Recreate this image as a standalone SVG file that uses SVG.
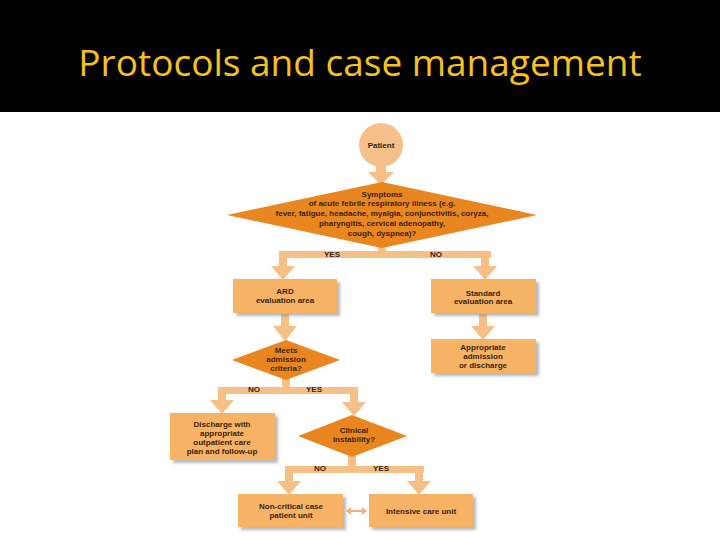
<svg xmlns="http://www.w3.org/2000/svg" width="720" height="540" viewBox="0 0 720 540">
<style>
.box{fill:#f6b265;filter:url(#sh)}
.dia{fill:#e9861f}
.t{font-family:"Liberation Sans",Arial,sans-serif;font-weight:bold;font-size:8px;fill:#3a2410;text-anchor:middle}
.c{fill:#f6bf86}
</style>
<defs>
<filter id="sh" x="-10%" y="-10%" width="130%" height="140%"><feDropShadow dx="3" dy="3" stdDeviation="1.5" flood-color="#888" flood-opacity="0.6"/></filter>
</defs>
<rect x="0" y="0" width="720" height="112" fill="#000"/>
<text x="360" y="76" font-family="'Open Sans','Liberation Sans',sans-serif" font-size="37" fill="#f5c21b" text-anchor="middle">Protocols and case management</text>
<rect x="0" y="112" width="720" height="428" fill="#fff"/>
<g id="connectors" class="c">
<polygon points="376,165 386,165 386,172 394,172 381,185 368,172 376,172"/>
<rect x="378" y="246" width="8" height="8"/>
<rect x="279" y="251" width="212" height="7"/>
<polygon points="279,258 287,258 287,266 295,266 283,280 271,266 279,266"/>
<polygon points="481,258 489,258 489,266 497,266 485,280 473,266 481,266"/>
<polygon points="281,314 289,314 289,326 297,326 285,341 273,326 281,326"/>
<polygon points="479,314 487,314 487,326 495,326 483,340 471,326 479,326"/>
<rect x="282" y="378" width="8" height="10"/>
<rect x="218" y="387" width="140" height="7"/>
<polygon points="218,394 226,394 226,400 234,400 222,414 210,400 218,400"/>
<polygon points="350,394 358,394 358,402 366,402 354,416 342,402 350,402"/>
<rect x="348" y="456" width="8" height="11"/>
<rect x="285" y="466" width="139" height="7"/>
<polygon points="285,473 293,473 293,481 301,481 289,495 277,481 285,481"/>
<polygon points="415,473 423,473 423,481 431,481 419,495 407,481 415,481"/>
<polygon points="346,511 351,507 351,510 362,510 362,507 367,511 362,515 362,512 351,512 351,515" fill="#f2b078"/>
</g>
<g id="patient"><circle cx="381" cy="145" r="22" fill="#f6c08a"/><text class="t" x="381" y="148">Patient</text></g>
<g id="symptoms"><polygon class="dia" points="227,215 382,182 537,215 382,248"/>
<text class="t" x="382" y="197">Symptoms</text>
<text class="t" x="382" y="206">of acute febrile respiratory illness (e.g.</text>
<text class="t" x="382" y="216">fever, fatigue, headache, myalgia, conjunctivitis, coryza,</text>
<text class="t" x="382" y="226">pharyngitis, cervical adenopathy,</text>
<text class="t" x="382" y="236">cough, dyspnea)?</text></g>
<text class="t" x="332" y="257">YES</text><text class="t" x="436" y="257">NO</text>
<g id="ard"><rect class="box" x="233" y="279" width="104" height="34"/><text class="t" x="285" y="294">ARD</text><text class="t" x="285" y="303">evaluation area</text></g>
<g id="standard"><rect class="box" x="431" y="279" width="105" height="34"/><text class="t" x="483" y="296">Standard</text><text class="t" x="483" y="304">evaluation area</text></g>
<g id="meets"><polygon class="dia" points="232,360 286,340 340,360 286,380"/><text class="t" x="286" y="353">Meets</text><text class="t" x="286" y="362">admission</text><text class="t" x="286" y="371">criteria?</text></g>
<g id="appropriate"><rect class="box" x="431" y="339" width="105" height="34"/><text class="t" x="483" y="350">Appropriate</text><text class="t" x="483" y="359">admission</text><text class="t" x="483" y="368">or discharge</text></g>
<text class="t" x="254" y="392">NO</text><text class="t" x="314" y="392">YES</text>
<g id="discharge"><rect class="box" x="170" y="413" width="105" height="47"/><text class="t" x="222" y="427">Discharge with</text><text class="t" x="222" y="436">appropriate</text><text class="t" x="222" y="445">outpatient care</text><text class="t" x="222" y="454">plan and follow-up</text></g>
<g id="clinical"><polygon class="dia" points="298,436 352,415 407,436 352,457"/><text class="t" x="354" y="433">Clinical</text><text class="t" x="354" y="442">instability?</text></g>
<text class="t" x="320" y="471">NO</text><text class="t" x="381" y="471">YES</text>
<g id="noncritical"><rect class="box" x="238" y="494" width="105" height="33"/><text class="t" x="291" y="509">Non-critical case</text><text class="t" x="291" y="518">patient unit</text></g>
<g id="icu"><rect class="box" x="369" y="494" width="104" height="33"/><text class="t" x="421" y="514">Intensive care unit</text></g>
</svg>
